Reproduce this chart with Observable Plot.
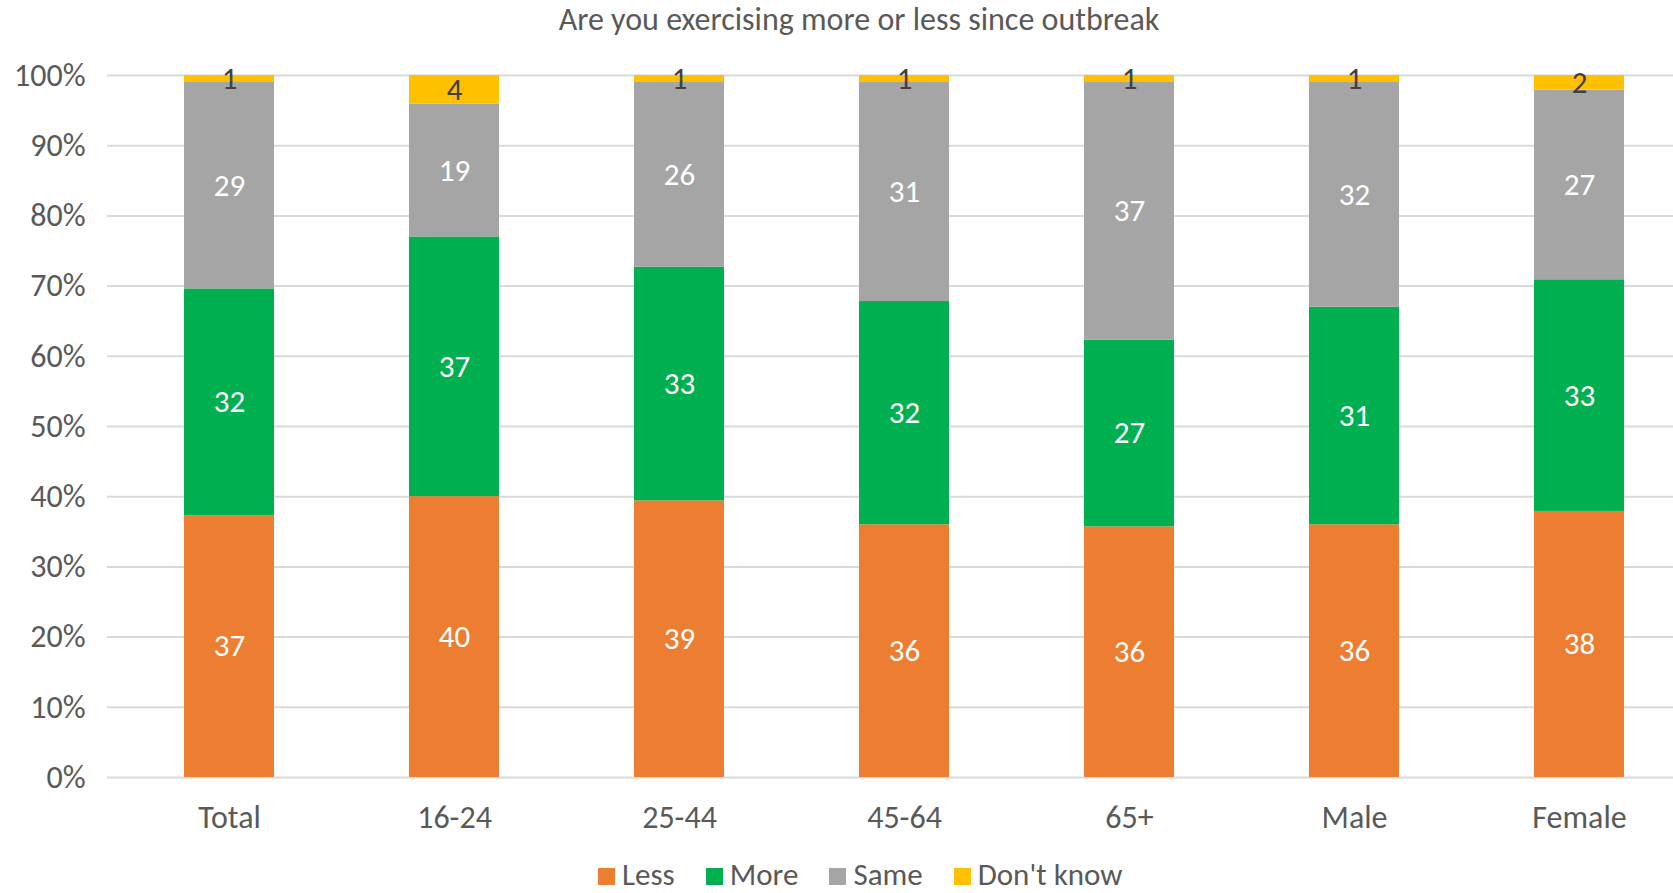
<!DOCTYPE html>
<html>
<head>
<meta charset="utf-8">
<script src="https://cdn.jsdelivr.net/npm/d3@7"></script>
<script src="https://cdn.jsdelivr.net/npm/@observablehq/plot@0.6"></script>
<style>
  body { margin: 0; background: #fff; }
  #wrap { position: relative; width: 1673px; height: 893px; overflow: hidden; font-family: Carlito, Calibri, Lato, sans-serif; color: #595959; }
  #title { height: 40px; line-height: 40px; font-size: 32px; text-align: center; width: 1718px; white-space: nowrap; }
  #legend { position: absolute; left: 598px; top: 856px; height: 37px; display: flex; align-items: center; font-size: 31px; line-height: 37px; white-space: nowrap; }
  #legend .item { display: flex; align-items: center; margin-right: 31px; }
  #legend .sw { width: 17px; height: 17px; margin-right: 7px; margin-top: 4px; }
  #chart svg { display: block; }
</style>
</head>
<body>
<div id="wrap">
  <div id="title">Are you exercising more or less since outbreak</div>
  <div id="chart"></div>
  <div id="legend"></div>
</div>
<script>
const categories = ["Total", "16-24", "25-44", "45-64", "65+", "Male", "Female"];
const series = ["Less", "More", "Same", "Don't know"];
const colors = ["#ED7D31", "#00B050", "#A5A5A5", "#FFC000"];
const less     = [37.3, 40.0, 39.4, 36.0, 35.7, 36.0, 37.9];
const more     = [32.3, 37.0, 33.3, 31.8, 26.6, 31.0, 33.0];
const same     = [29.4, 18.9, 26.3, 31.2, 36.7, 32.0, 27.0];
const dontKnow = [1.0, 4.1, 1.0, 1.0, 1.0, 1.0, 2.1];
const yTicks = [0, 10, 20, 30, 40, 50, 60, 70, 80, 90, 100];

const seriesValues = [less, more, same, dontKnow];
const rows = [];
series.forEach((s, si) => {
  categories.forEach((c, ci) => rows.push({category: c, series: s, value: seriesValues[si][ci]}));
});

const font = "Carlito, Calibri, Lato, sans-serif";
const chart = Plot.plot({
  width: 1673,
  height: 816,
  marginLeft: 107,
  marginRight: 0,
  marginTop: 35,
  marginBottom: 79,
  style: {fontFamily: font, fontSize: "32px", color: "#595959", background: "#fff", overflow: "visible"},
  x: {domain: categories, range: [115, 1692], paddingInner: 0.6, paddingOuter: 0.3, label: null, tickSize: 0, tickPadding: 28},
  y: {domain: [0, 100], ticks: yTicks, tickFormat: d => d + "%", label: null, tickSize: 0, tickPadding: 22},
  color: {domain: series, range: colors},
  marks: [
    Plot.ruleY(yTicks, {stroke: "#D9D9D9", strokeWidth: 2}),
    Plot.barY(rows, {x: "category", y: "value", fill: "series"}),
    Plot.text(rows, Plot.stackY({
      x: "category", y: "value", z: "series",
      text: d => Math.round(d.value),
      fill: d => d.series === "Don't know" ? "#404040" : "#FFFFFF",
      fontSize: 31
    }))
  ]
});
document.getElementById("chart").appendChild(chart);

const legend = document.getElementById("legend");
series.forEach((s, i) => {
  const item = document.createElement("div");
  item.className = "item";
  const sw = document.createElement("div");
  sw.className = "sw";
  sw.style.background = colors[i];
  const label = document.createElement("span");
  label.textContent = s;
  item.appendChild(sw);
  item.appendChild(label);
  legend.appendChild(item);
});
</script>
</body>
</html>
